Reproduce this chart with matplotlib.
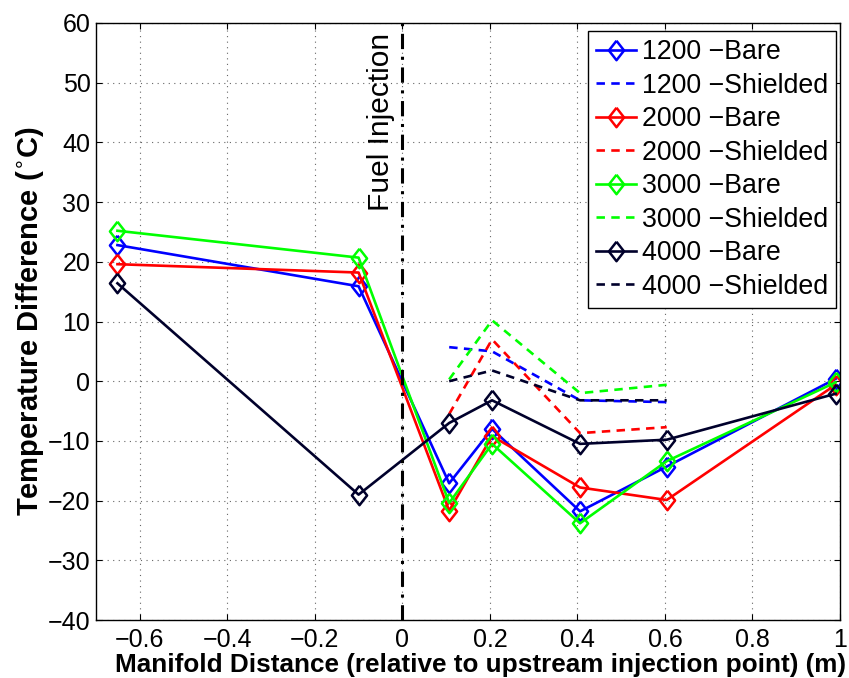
import numpy as np
import matplotlib
matplotlib.use("Agg")
import matplotlib.pyplot as plt

plt.rcParams['font.family'] = ['Liberation Sans', 'DejaVu Sans']

# manifold positions (m) relative to upstream injection point
x_bare = [-0.651, -0.1, 0.107, 0.205, 0.406, 0.604, 0.99]
x_shield = [0.107, 0.205, 0.406, 0.604]

bare_1200 = [22.8, 15.9, -17.1, -8.0, -21.8, -14.3, 0.4]
bare_2000 = [19.6, 18.2, -21.7, -9.2, -17.8, -19.9, -0.6]
bare_3000 = [25.2, 20.7, -20.4, -10.5, -23.8, -13.4, -0.2]
bare_4000 = [16.4, -19.0, -7.0, -3.2, -10.5, -9.8, -2.1]

shield_1200 = [5.7, 5.0, -3.2, -3.5]
shield_2000 = [-5.5, 7.0, -8.7, -7.7]
shield_3000 = [0.3, 10.2, -2.0, -0.6]
shield_4000 = [0.0, 1.8, -3.2, -3.2]

rpm = ['1200', '2000', '3000', '4000']
colors = ['#0000ff', '#ff0000', '#00ff00', '#00002b']
bare = [bare_1200, bare_2000, bare_3000, bare_4000]
shield = [shield_1200, shield_2000, shield_3000, shield_4000]

xticks = [-0.6, -0.4, -0.2, 0, 0.2, 0.4, 0.6, 0.8, 1]
xticklabels = ['\u22120.6', '\u22120.4', '\u22120.2', '0', '0.2', '0.4', '0.6', '0.8', '1']
yticks = [-40, -30, -20, -10, 0, 10, 20, 30, 40, 50, 60]
yticklabels = ['\u221240', '\u221230', '\u221220', '\u221210', '0', '10', '20', '30', '40', '50', '60']

# matlab-like diamond, a bit taller than wide
diamond = [(0, 1), (0.78, 0), (0, -1), (-0.78, 0), (0, 1)]

fig = plt.figure(figsize=(8.49, 6.78), dpi=100)
ax = fig.add_axes([96/849, 58/678, 744/849, 597/678])

for i in range(4):
    ax.plot(x_bare, bare[i], color=colors[i], lw=1.9, marker=diamond, ms=14,
            mfc='none', mec=colors[i], mew=1.8, label=rpm[i] + ' \u2212Bare')
    ax.plot(x_shield, shield[i], color=colors[i], lw=1.9, dashes=(3.2, 2.4),
            label=rpm[i] + ' \u2212Shielded')

ax.axvline(0, color='black', lw=2.2, ls='-.', dashes=(5, 2.5, 1, 2.5))
ax.text(-0.048, 28.5, 'Fuel Injection', rotation=90, ha='center', va='bottom',
        fontsize=21.5)

ax.set_xlim(-0.7, 1)
ax.set_ylim(-40, 60)
ax.set_xticks(xticks)
ax.set_xticklabels(xticklabels)
ax.set_yticks(yticks)
ax.set_yticklabels(yticklabels)
ax.tick_params(direction='in', length=4, width=0.8, top=True, right=True,
               labelsize=18)
ax.tick_params(axis='x', pad=6)
ax.tick_params(axis='y', pad=4)
ax.grid(True, ls=(0, (1, 4)), color='#666666', lw=0.8)
for s in ax.spines.values():
    s.set_linewidth(1.0)

ax.set_xlabel('Manifold Distance (relative to upstream injection point) (m)',
              fontsize=18.8, fontweight='bold')
ax.xaxis.set_label_coords(0.517, -0.055)
ax.set_ylabel('Temperature Difference ($^{\\circ}$C)', fontsize=21,
              fontweight='bold', labelpad=1)

leg = ax.legend(loc='upper right', bbox_to_anchor=(836/849, 1 - 31/678),
                bbox_transform=fig.transFigure, fontsize=19.3,
                handlelength=1.5, labelspacing=0.28, handletextpad=0.22,
                borderpad=0.3, borderaxespad=0, fancybox=False, framealpha=1,
                edgecolor='black')
leg.get_frame().set_linewidth(1.0)

fig.savefig('out.png', dpi=100)
